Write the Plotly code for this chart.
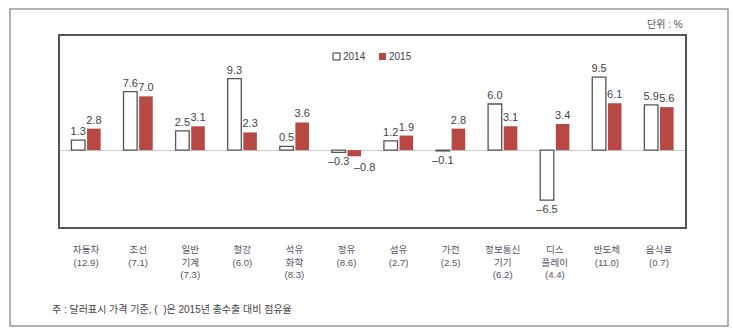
import plotly.graph_objects as go

categories = ["자동차", "조선", "일반<br>기계", "철강", "석유<br>화학", "정유",
              "섬유", "가전", "정보통신<br>기기", "디스<br>플레이", "반도체", "음식료"]
shares = ["12.9", "7.1", "7.3", "6.0", "8.3", "8.6", "2.7", "2.5", "6.2", "4.4", "11.0", "0.7"]
v2014 = [1.3, 7.6, 2.5, 9.3, 0.5, -0.3, 1.2, -0.1, 6.0, -6.5, 9.5, 5.9]
v2015 = [2.8, 7.0, 3.1, 2.3, 3.6, -0.8, 1.9, 2.8, 3.1, 3.4, 6.1, 5.6]
series_names = ["2014", "2015"]

tick_text = [f"{c}<br>({s})" for c, s in zip(categories, shares)]
xs = list(range(len(categories)))

RED = "#b84844"
OUTLINE = "#555555"
FONT = "Liberation Sans, Noto Sans CJK KR, sans-serif"
VAL_FONT = dict(family=FONT, size=11, color="#444444")


def fmt(v):
    return f"{v:.1f}" if v >= 0 else f"\u2013{abs(v):.1f}"


# where both bars of a group are negative, the 2015 label is nudged right (as in the source)
both_neg = [a < 0 and b < 0 for a, b in zip(v2014, v2015)]
text2015 = ["" if n else fmt(v) for v, n in zip(v2015, both_neg)]

fig = go.Figure()
fig.add_trace(go.Bar(
    x=xs, y=v2014, name=series_names[0],
    marker=dict(color="white", line=dict(color=OUTLINE, width=1.3)),
    text=[fmt(v) for v in v2014], textposition="outside", constraintext="none",
    textfont=VAL_FONT, cliponaxis=False,
))
fig.add_trace(go.Bar(
    x=xs, y=v2015, name=series_names[1],
    marker=dict(color=RED, line=dict(width=0)),
    text=text2015, textposition="outside", constraintext="none",
    textfont=VAL_FONT, cliponaxis=False,
))

# px -> paper helpers (plot area: x 60..685, y 36..227)
def px(x):
    return (x - 60) / 625


def py(y):
    return (227 - y) / 191


legend_shapes = [
    dict(type="rect", xref="paper", yref="paper", x0=px(333), x1=px(340), y0=py(60), y1=py(53),
         line=dict(color="#333333", width=1), fillcolor="white"),
    dict(type="rect", xref="paper", yref="paper", x0=px(379), x1=px(386), y0=py(60), y1=py(53),
         line=dict(width=0), fillcolor=RED),
]

annotations = [
    dict(text=series_names[0], xref="paper", yref="paper", x=px(341), y=py(56.5),
         xanchor="left", yanchor="middle", showarrow=False,
         font=dict(family=FONT, size=10, color="#444444")),
    dict(text=series_names[1], xref="paper", yref="paper", x=px(387), y=py(56.5),
         xanchor="left", yanchor="middle", showarrow=False,
         font=dict(family=FONT, size=10, color="#444444")),
    dict(text="단위 : %", xref="paper", yref="paper", x=px(685), y=py(24),
         xanchor="right", yanchor="middle", showarrow=False,
         font=dict(family=FONT, size=10, color="#555555")),
    dict(text="주 : 달러표시 가격 기준, (  )은 2015년 총수출 대비 점유율", xref="paper", yref="paper",
         x=px(50), y=py(309), xanchor="left", yanchor="middle",
         showarrow=False, font=dict(family=FONT, size=10, color="#444444")),
]
for i, (v, n) in enumerate(zip(v2015, both_neg)):
    if n:
        annotations.append(dict(text=fmt(v), xref="x", yref="y", x=xs[i], y=v,
                                xanchor="center", yanchor="top", xshift=18, yshift=-3,
                                showarrow=False, font=VAL_FONT))

fig.update_layout(
    width=733, height=334,
    margin=dict(l=60, r=48, t=36, b=107),
    paper_bgcolor="white", plot_bgcolor="white",
    font=dict(family=FONT, size=11, color="#444444"),
    barmode="group", bargap=0.4, bargroupgap=0.13,
    showlegend=False,
    xaxis=dict(range=[-0.5, 11.5], tickmode="array", tickvals=xs, ticktext=tick_text,
               showline=True, mirror=True, linecolor="#555555", linewidth=1.5,
               ticks="", showgrid=False, zeroline=False, ticklabelstandoff=13,
               tickfont=dict(family=FONT, size=9.6, color="#555566")),
    yaxis=dict(range=[-10.0, 14.85], showline=True, mirror=True, linecolor="#555555",
               linewidth=1.5, showticklabels=False, ticks="", showgrid=False,
               zeroline=True, zerolinecolor="#cccccc", zerolinewidth=1),
    shapes=[dict(type="rect", xref="paper", yref="paper",
                 x0=px(10), x1=px(728), y0=py(326), y1=py(9),
                 line=dict(color="#999999", width=1.5), layer="below")] + legend_shapes,
    annotations=annotations,
)

fig.write_html("out.html")
